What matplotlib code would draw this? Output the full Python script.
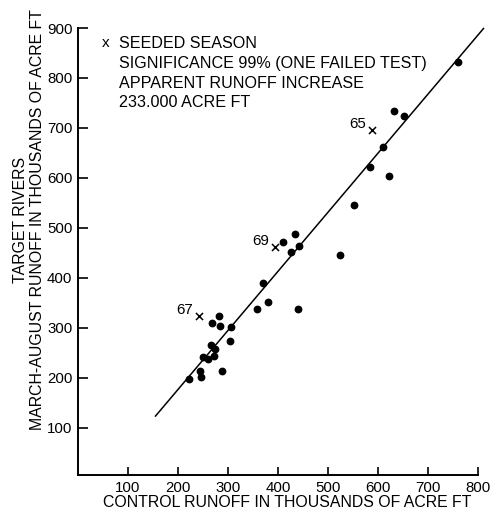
import matplotlib
matplotlib.use("Agg")
import matplotlib.pyplot as plt

plt.rcParams['font.family'] = ['Liberation Sans', 'DejaVu Sans']

# Unseeded seasons (control, target), thousands of acre ft
ctrl = [222, 243, 246, 249, 259, 266, 271, 274, 287, 267, 281, 284, 306, 304,
        369, 357, 379, 439, 524, 426, 441, 434, 409, 551, 621, 584, 609, 652,
        631, 759]
targ = [198, 213, 201, 241, 238, 266, 244, 258, 213, 309, 324, 303, 301, 274,
        389, 337, 351, 337, 446, 451, 464, 488, 471, 545, 603, 621, 661, 723,
        733, 831]

# Seeded seasons
seed_ctrl = [587, 394, 241]
seed_targ = [696, 461, 323]
seed_lab = ["65", "69", "67"]

# Regression line end points
line_x = [155, 811]
line_y = [123, 899]

xticks = [100, 200, 300, 400, 500, 600, 700, 800]
yticks = [100, 200, 300, 400, 500, 600, 700, 800, 900]

legend_lines = ["SEEDED SEASON",
                "SIGNIFICANCE 99% (ONE FAILED TEST)",
                "APPARENT RUNOFF INCREASE",
                "233.000 ACRE FT"]

W, H = 491, 519
fig = plt.figure(figsize=(W / 100, H / 100), dpi=100)
ax = fig.add_axes([78 / W, (H - 475) / H, 400 / W, 447 / H])

ax.plot(line_x, line_y, color='black', lw=1.1, clip_on=False)
ax.plot(ctrl, targ, 'o', color='black', ms=4.6, clip_on=False)
ax.scatter(seed_ctrl, seed_targ, marker='x', s=26, color='black', lw=1.1, zorder=3)
for xv, yv, lab in zip(seed_ctrl, seed_targ, seed_lab):
    ax.annotate(lab, (xv, yv), xytext=(-10, 4.5), textcoords='offset points',
                ha='center', va='center', fontsize=10.8)

ax.set_xlim(0, 800)
ax.set_ylim(5, 900)
ax.set_xticks(xticks)
ax.set_yticks(yticks)
ax.tick_params(direction='in', length=7.5, width=1.2, labelsize=10.8, pad=4)
ax.tick_params(axis='x', length=6, pad=4.5)
for s in ['top', 'right']:
    ax.spines[s].set_visible(False)
for s in ['left', 'bottom']:
    ax.spines[s].set_linewidth(1.4)

fig.text(287.5 / W, 1 - 502.5 / H, "CONTROL RUNOFF IN THOUSANDS OF ACRE FT",
         ha='center', va='center', fontsize=11.4)
fig.text(29 / W, 1 - 220 / H,
         "TARGET RIVERS\nMARCH-AUGUST RUNOFF IN THOUSANDS OF ACRE FT",
         ha='center', va='center', rotation=90, fontsize=11.4, linespacing=1.12,
         multialignment='center')

fig.text(106 / W, 1 - 43 / H, "x", ha='center', va='center', fontsize=11)
for i, line in enumerate(legend_lines):
    fig.text(119 / W, 1 - (47.7 + i * 19.9) / H, line,
             ha='left', va='baseline', fontsize=11.6)

fig.savefig("out.png", dpi=100)
